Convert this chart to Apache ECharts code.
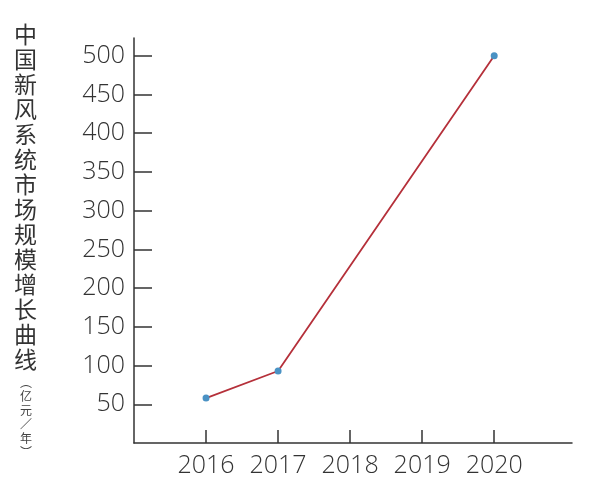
<!DOCTYPE html>
<html><head><meta charset="utf-8">
<script src="https://cdn.jsdelivr.net/npm/echarts@6/dist/echarts.min.js"></script>
<style>html,body{margin:0;padding:0;background:#fff}#c{width:600px;height:494px}</style>
</head><body><div id="c"></div>
<script>
const years = [2016, 2017, 2020];
const values = [58, 93, 500];
const xTicks = [2016, 2017, 2018, 2019, 2020];
const yTicks = [50, 100, 150, 200, 250, 300, 350, 400, 450, 500];
const titleChars = ['中','国','新','风','系','统','市','场','规','模','增','长','曲','线'];
const unitChars = ['︵','亿','元','／','年','︶'];

const chart = echarts.init(document.getElementById('c'), null, {renderer: 'canvas'});
const numFont = "'Open Sans', 'Noto Sans', sans-serif";
chart.setOption({
  animation: false,
  backgroundColor: '#fff',
  grid: {left: 134, right: 28, top: 38, bottom: 51, containLabel: false},
  xAxis: {
    type: 'value', min: 2015, max: 2021.08,
    splitLine: {show: false},
    axisLine: {show: true, lineStyle: {color: '#333', width: 1.5}},
    axisTick: {show: true, inside: true, length: 13, customValues: xTicks, lineStyle: {color: '#333', width: 1.5}},
    axisLabel: {customValues: xTicks, margin: 10, fontSize: 25, color: '#333', fontFamily: numFont, fontWeight: 300, formatter: v => String(v)}
  },
  yAxis: {
    type: 'value', min: 0, max: 523,
    splitLine: {show: false},
    axisLine: {show: true, lineStyle: {color: '#333', width: 1.5}},
    axisTick: {show: true, inside: true, length: 18, customValues: yTicks, lineStyle: {color: '#333', width: 1.5}},
    axisLabel: {customValues: yTicks, margin: 9, fontSize: 25, color: '#333', fontFamily: numFont, fontWeight: 300}
  },
  graphic: [
    {type: 'text', left: 14, top: 22, style: {text: titleChars.join('\n'), font: "400 23px 'Noto Sans CJK SC'", lineHeight: 25, fill: '#333', align: 'center'}},
    {type: 'text', left: 20, top: 375, style: {text: unitChars.join('\n'), font: "400 12px 'Noto Sans CJK SC'", lineHeight: 14, fill: '#444', align: 'center'}}
  ],
  series: [{
    type: 'line',
    data: years.map((y, i) => [y, values[i]]),
    lineStyle: {color: '#b5303a', width: 1.8},
    symbol: 'circle', symbolSize: 7,
    itemStyle: {color: '#4a92c4'},
    z: 3
  }]
});
</script></body></html>
